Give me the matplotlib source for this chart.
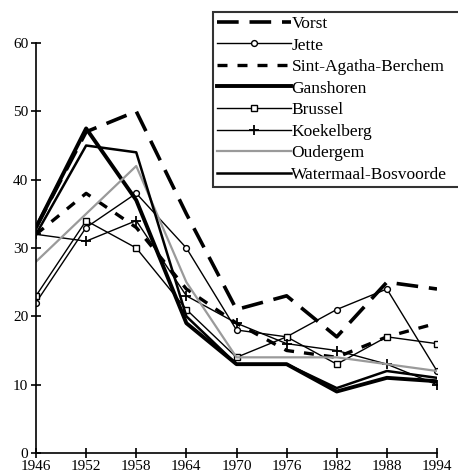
import matplotlib
matplotlib.use("Agg")
import matplotlib.pyplot as plt

plt.rcParams['font.family'] = ['Liberation Serif', 'DejaVu Serif']

years = [1946, 1952, 1958, 1964, 1970, 1976, 1982, 1988, 1994]
vorst = [33, 47, 50, 35, 21, 23, 17, 25, 24]
jette = [22, 33, 38, 30, 18, 17, 21, 24, 12]
sint_agatha = [32, 38, 33, 24, 19, 15, 14, 17, 19]
ganshoren = [33, 47.5, 37, 19, 13, 13, 9, 11, 10.5]
brussel = [23, 34, 30, 21, 14, 17, 13, 17, 16]
koekelberg = [32, 31, 34, 23, 19, 16, 15, 13, 10]
oudergem = [28, 35, 42, 25, 14, 14, 14, 13, 12]
watermaal = [32, 45, 44, 20, 13, 13, 9.5, 12, 11]
yticks = [0, 10, 20, 30, 40, 50, 60]

fig = plt.figure(figsize=(4.58, 4.75), dpi=100)
ax = fig.add_axes([36/458, 22/475, 401/458, 410/475])

ax.plot(years, vorst, color='black', lw=2.6, dashes=(6, 3), label='Vorst')
ax.plot(years, jette, color='black', lw=1.0, marker='o', ms=6, mfc='white', mec='black', mew=1.0, label='Jette')
ax.plot(years, sint_agatha, color='black', lw=2.4, dashes=(3, 3), label='Sint-Agatha-Berchem')
ax.plot(years, ganshoren, color='black', lw=2.8, label='Ganshoren')
ax.plot(years, brussel, color='black', lw=1.0, marker='s', ms=6.5, mfc='white', mec='black', mew=1.0, label='Brussel')
ax.plot(years, koekelberg, color='black', lw=1.0, marker='+', ms=10, mew=1.3, label='Koekelberg')
ax.plot(years, oudergem, color='#9a9a9a', lw=1.6, label='Oudergem')
ax.plot(years, watermaal, color='black', lw=1.8, label='Watermaal-Bosvoorde')

ax.set_xlim(1946, 1994)
ax.set_ylim(0, 60)
ax.set_xticks(years)
ax.set_yticks(yticks)
for s in ['top', 'right']:
    ax.spines[s].set_visible(False)
for s in ['left', 'bottom']:
    ax.spines[s].set_linewidth(1.2)
ax.tick_params(direction='inout', length=7, width=1.2, labelsize=11, pad=2)
ax.tick_params(axis='x', pad=1.5)

handles, labels = ax.get_legend_handles_labels()
for h in handles:
    h.set_markersize(h.get_markersize() * 0.7)
leg = fig.legend(handles, labels, loc='upper left',
                 bbox_to_anchor=(213/458, 1 - 188/475, 250/458, 176/475), mode='expand',
                 frameon=True, fancybox=False, edgecolor='black', fontsize=12.5,
                 handlelength=4.3, handletextpad=0.0, borderpad=0.22, labelspacing=0.31,
                 borderaxespad=0)
leg.get_frame().set_linewidth(1.5)

fig.savefig('out.png', dpi=100)
